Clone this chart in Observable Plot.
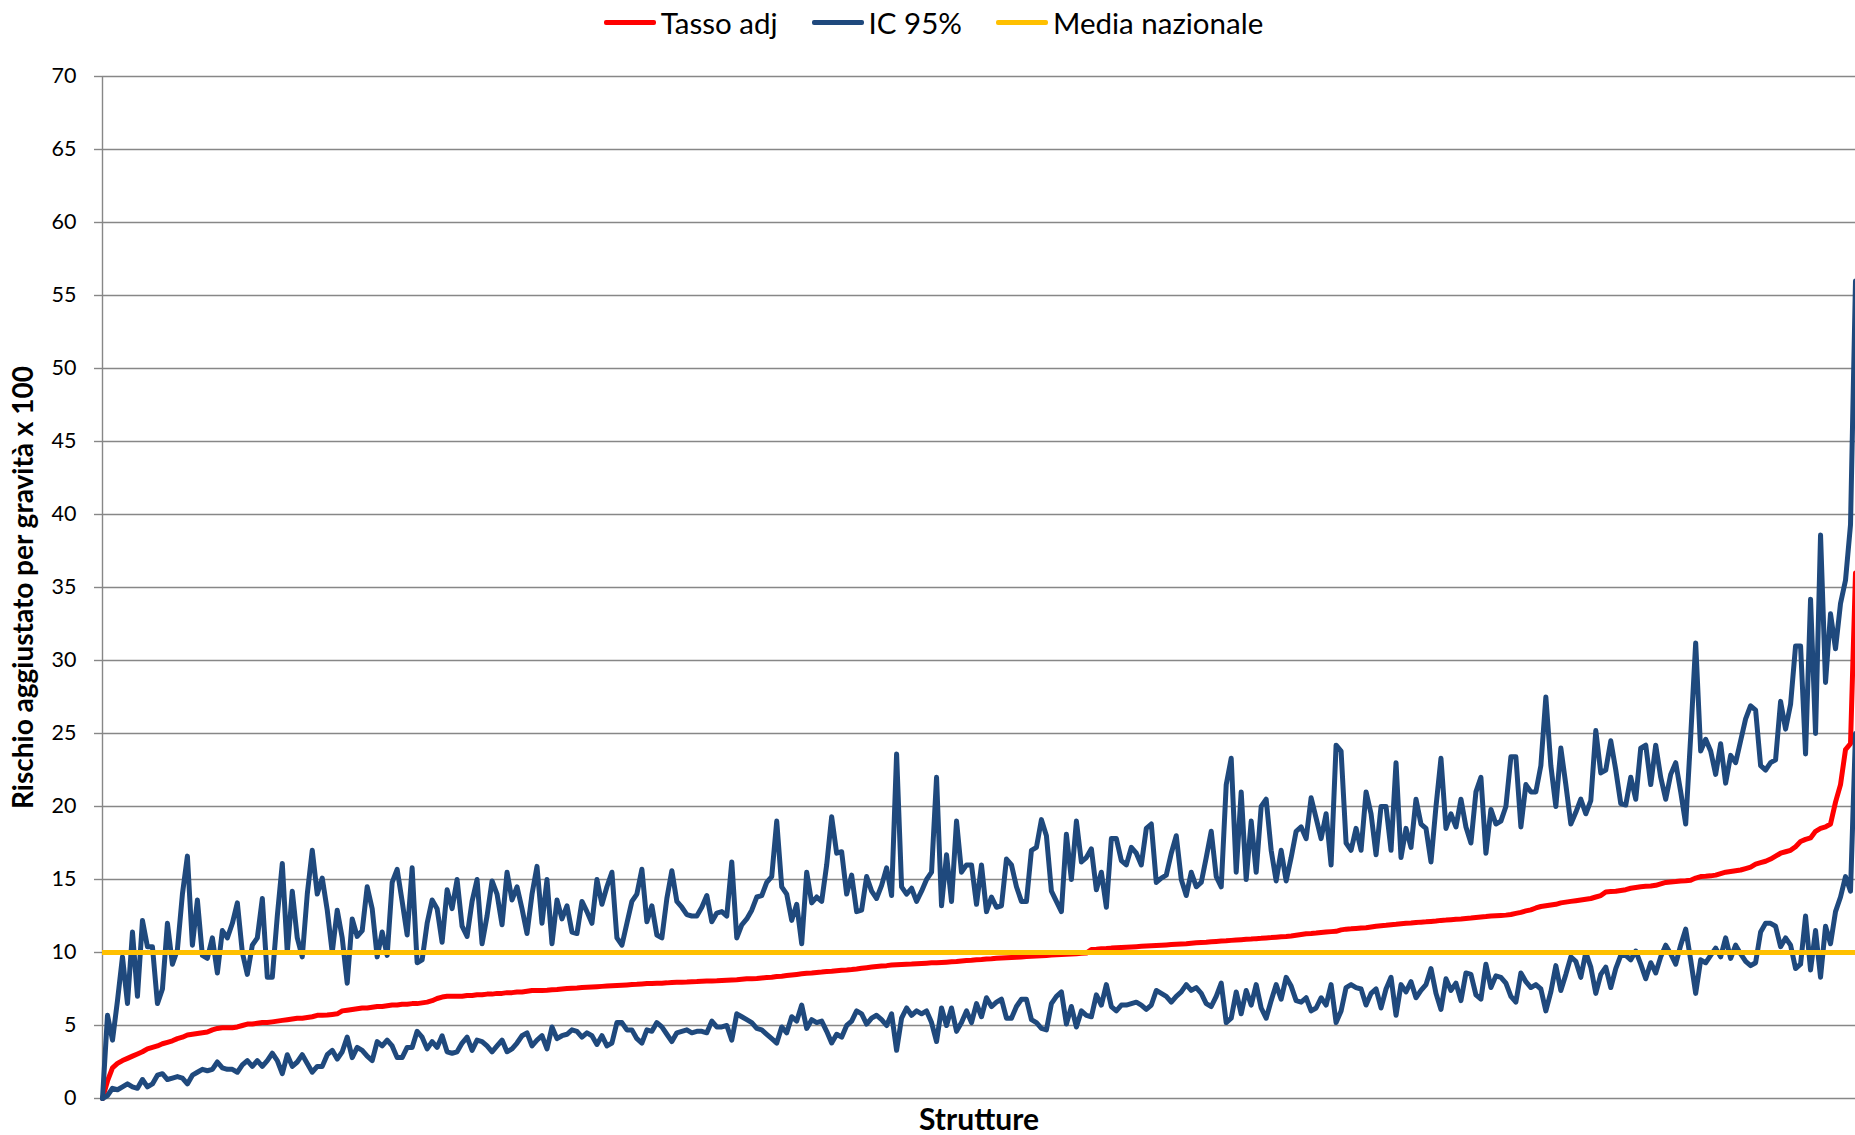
<!DOCTYPE html>
<html>
<head>
<meta charset="utf-8">
<script src="https://cdn.jsdelivr.net/npm/d3@7"></script>
<script src="https://cdn.jsdelivr.net/npm/@observablehq/plot@0.6"></script>
<style>
  body { margin: 0; background: #fff; font-family: Lato, "Open Sans", sans-serif; color: #000; }
  #legend { height: 45px; display: flex; justify-content: center; align-items: center; gap: 34px; font-size: 29.5px; padding-left: 12px; }
  .item { display: flex; align-items: center; gap: 5px; }
  .sw { width: 52px; height: 5px; border-radius: 2px; }
  #chart svg { display: block; }
</style>
</head>
<body>
<div id="legend"></div>
<div id="chart"></div>
<script>
// Series names and colours
const seriesNames = ["Tasso adj", "IC 95%", "Media nazionale"];
const seriesColors = ["#FF0000", "#1F497D", "#FFC000"];
const yTitle = "Rischio aggiustato per gravità x 100";
const xTitle = "Strutture";
const yTicks = [0, 5, 10, 15, 20, 25, 30, 35, 40, 45, 50, 55, 60, 65, 70];
const mediaNazionale = 10;

// Tasso adj (sorted risk) per structure
const tasso = [
  0,1.2,2.1,2.4,2.6,2.75,2.9,3.05,3.2,3.4, 3.5,3.6,3.75,3.85,3.95,4.1,4.2,4.35,4.4,4.45,
  4.5,4.55,4.7,4.8,4.85,4.85,4.85,4.9,5.0,5.1, 5.1,5.15,5.2,5.2,5.25,5.3,5.35,5.4,5.45,5.5,
  5.5,5.55,5.6,5.7,
  5.7,5.72,5.76,5.8,6.0,6.05,6.1,6.15,6.2,6.2, 6.25,6.3,6.3,6.35,6.4,6.4,6.45,6.45,6.5,6.5,
  6.55,6.6,6.7,6.85,6.95,7.0,7.0,7.0,7.0,7.05, 7.05,7.1,7.1,7.15,7.15,7.2,7.2,7.25,7.25,7.3,
  7.3,7.35,7.4,
  7.4,7.4,7.42,7.45,7.47,7.5,7.53,7.55,7.57,7.6, 7.62,7.64,7.66,7.68,7.7,7.72,7.74,7.76,7.78,7.8,
  7.82,7.85,7.87,7.88,7.9,7.9,7.92,7.95,7.96,7.97, 7.98,8.0,8.01,8.03,8.04,8.05,8.06,8.08,8.1,8.12,
  8.14,8.17,8.2,
  8.2,8.22,8.25,8.28,8.3,8.35,8.38,8.42,8.46,8.5, 8.54,8.58,8.6,8.63,8.66,8.7,8.72,8.75,8.78,8.8,
  8.83,8.87,8.92,8.96,9.0,9.04,9.07,9.1,9.14,9.16, 9.18,9.2,9.21,9.23,9.25,9.27,9.29,9.3,9.32,9.34,
  9.36,9.38,9.42,
  9.45,9.47,9.5,9.52,9.55,9.57,9.6,9.62,9.64,9.66, 9.68,9.7,9.72,9.74,9.76,9.78,9.8,9.82,9.84,9.86,
  9.88,9.9,9.92,9.94,9.96,10.2,10.22,10.25,10.27,10.3, 10.32,10.34,10.36,10.38,10.4,10.42,10.44,10.46,10.48,10.5,
  10.52,10.54,10.56,
  10.58,10.6,10.63,10.66,10.68,10.7,10.73,10.76,10.78,10.8, 10.83,10.86,10.88,10.9,10.92,10.95,10.97,11.0,11.02,11.05,
  11.08,11.1,11.13,11.18,11.23,11.28,11.3,11.33,11.37,11.4, 11.43,11.45,11.55,11.6,11.62,11.65,11.68,11.7,11.75,11.8,
  11.83,11.86,11.9,
  11.93,11.97,12.0,12.02,12.05,12.08,12.1,12.13,12.16,12.2, 12.22,12.25,12.28,12.3,12.33,12.36,12.4,12.43,12.46,12.5,
  12.52,12.54,12.56,12.6,12.68,12.75,12.85,12.92,13.05,13.15, 13.2,13.25,13.3,13.4,13.45,13.5,13.55,13.6,13.65,13.7,
  13.8,13.9,14.15,
  14.18,14.2,14.25,14.3,14.4,14.45,14.5,14.53,14.55,14.6, 14.7,14.8,14.83,14.86,14.9,14.92,14.95,15.1,15.2,15.22,
  15.25,15.3,15.4,15.5,15.55,15.6,15.65,15.75,15.85,16.05, 16.15,16.25,16.4,16.6,16.8,16.9,17.0,17.25,17.6,17.75,
  17.85,18.3,18.5,18.6,18.8,20.3,21.5,23.9,24.3,
  36
];

// IC 95% upper bound
const icUpper = [
  0,5.7,4.0,6.7,9.7,6.5,11.4,7.0,12.2,10.4, 10.4,6.5,7.5,12.0,9.2,10.2,14,16.6,10.5,13.6,
  9.8,9.6,11.0,8.6,11.5,11.0,12,13.4,10,8.5, 10.5,11,13.7,8.3,8.3,12.5,16.1,10,14.2,11,
  9.7,14,17.0,14,
  15.1,12.9,10.0,12.9,11.0,7.9,12.3,11.1,11.5,14.5, 13.0,9.7,11.4,9.8,14.8,15.7,13.5,11.2,15.8,9.3,
  9.5,12.0,13.6,13.0,10.7,14.3,13.0,15.0,11.8,11.1, 13.5,15.0,10.6,12.5,14.9,14.0,11.9,15.5,13.6,14.5,
  13.0,11.3,14.0,
  15.9,12.0,15.0,10.6,13.6,12.3,13.2,11.4,11.3,13.5, 12.8,12.0,15.0,13.3,14.5,15.5,11.0,10.5,12.0,13.5,
  14.0,15.7,12.1,13.2,11.2,11.0,13.7,15.6,13.5,13.1, 12.6,12.5,12.5,13.1,13.9,12.1,12.7,12.8,12.5,16.2,
  11.0,11.9,12.3,
  12.9,13.8,13.9,14.8,15.2,19.0,14.5,14.0,12.2,13.3, 10.6,15.5,13.4,13.8,13.5,16.0,19.3,16.8,16.9,14.0,
  15.3,12.8,12.9,15.2,14.2,13.7,14.6,15.8,13.9,23.6, 14.5,14.0,14.4,13.5,14.2,15.0,15.5,22.0,13.2,16.7,
  13.5,19.0,15.5,
  16.0,16.0,13.3,16.0,12.8,13.8,13.1,13.2,16.4,16.0, 14.5,13.5,13.5,17.0,17.2,19.1,18.0,14.2,13.5,12.8,
  18.1,15.0,19.0,16.2,16.5,17.1,14.3,15.5,13.1,17.8, 17.8,16.3,16.0,17.2,16.8,16.0,18.5,18.8,14.8,15.1,
  15.3,16.8,18.0,
  15.0,13.9,15.5,14.5,14.8,16.5,18.3,15.2,14.5,21.5, 23.3,15.5,21.0,15.0,19.0,15.5,20.0,20.5,17.0,14.9,
  17.0,14.9,16.5,18.3,18.6,17.8,20.6,19.2,17.8,19.5, 16.0,24.2,23.8,17.5,17.0,18.5,17.0,21.0,19.5,16.7,
  20.0,20.0,17.0,
  23.0,16.5,18.5,17.2,20.5,18.8,18.5,16.2,20.0,23.3, 18.5,19.5,18.6,20.5,18.6,17.5,21.0,22.0,16.8,19.8,
  18.8,19.0,20.0,23.4,23.4,18.6,21.5,21.0,21.0,22.8, 27.5,22.8,20.0,24.0,21.5,18.8,19.6,20.5,19.5,20.4,
  25.2,22.3,22.5,
  24.5,22.5,20.2,20.1,22.0,20.5,24.0,24.2,21.5,24.2, 22.0,20.5,22.2,23.0,21.0,18.8,24.8,31.2,23.8,24.6,
  23.8,22.2,24.3,21.6,23.5,23.0,24.5,26.0,26.9,26.6, 22.8,22.5,23.0,23.2,27.2,25.3,27.0,31.0,31.0,23.6,
  34.2,25.0,38.6,28.5,33.2,30.8,33.9,35.5,39.3,
  56
];

// IC 95% lower bound
const icLower = [
  0,0.2,0.7,0.6,0.8,1.0,0.8,0.7,1.3,0.8, 1.0,1.6,1.7,1.3,1.4,1.5,1.4,1.0,1.6,1.8,
  2.0,1.9,2.0,2.5,2.1,2.0,2.0,1.8,2.3,2.6, 2.2,2.6,2.2,2.6,3.1,2.6,1.7,3.0,2.2,2.5,
  3.0,2.4,1.8,2.2,
  2.2,3.0,3.3,2.7,3.2,4.2,2.8,3.5,3.3,2.9, 2.6,3.9,3.6,4.0,3.6,2.8,2.8,3.5,3.5,4.6,
  4.2,3.4,3.9,3.5,4.3,3.2,3.1,3.2,3.8,4.2, 3.3,4.0,3.9,3.6,3.2,3.6,4.0,3.2,3.4,3.8,
  4.3,4.5,3.6,
  4.0,4.3,3.4,4.9,4.1,4.3,4.4,4.7,4.6,4.2, 4.5,4.3,3.7,4.3,3.6,3.8,5.2,5.2,4.7,4.7,
  4.1,3.8,4.7,4.6,5.2,4.9,4.4,3.9,4.5,4.6, 4.7,4.5,4.6,4.6,4.5,5.3,4.9,4.9,5.0,4.0,
  5.8,5.6,5.4,
  5.2,4.8,4.7,4.4,4.1,3.8,4.9,4.5,5.6,5.3, 6.4,4.8,5.4,5.2,5.3,4.6,3.8,4.4,4.2,5.0,
  5.3,6.0,5.8,5.1,5.5,5.7,5.4,5.0,5.8,3.3, 5.5,6.2,5.7,6.0,5.8,6.0,5.2,3.9,6.2,5.0,
  6.2,4.6,5.2,
  6.0,5.2,6.5,5.6,6.9,6.3,6.6,6.8,5.5,5.5, 6.3,6.8,6.8,5.4,5.2,4.8,4.7,6.5,7.0,7.3,
  5.1,6.3,4.9,6.0,5.7,5.6,7.1,6.4,7.8,6.3, 6.0,6.4,6.4,6.5,6.6,6.4,6.1,6.4,7.4,7.2,
  7.0,6.6,7.0,
  7.3,7.8,7.4,7.6,7.2,6.5,6.3,7.0,7.9,5.2, 5.5,7.3,5.8,7.4,6.4,7.8,6.2,5.5,6.7,7.8,
  6.8,8.3,7.7,6.7,6.6,6.9,6.0,6.2,6.9,6.4, 7.8,5.2,6.0,7.6,7.8,7.6,7.5,6.4,7.2,7.5,
  6.2,7.5,8.3,
  5.7,7.8,7.3,8.0,6.9,7.4,7.8,8.9,7.2,6.1, 8.2,7.4,7.9,6.7,8.6,8.5,7.1,6.8,9.2,7.6,
  8.4,8.3,7.9,7.0,6.6,8.6,8.0,7.6,7.8,7.5, 6.0,7.3,9.1,7.4,8.5,9.7,9.4,8.3,10.0,9.0,
  7.2,8.5,9.0,
  7.6,8.9,9.8,9.8,9.5,10.1,9.2,8.2,9.3,8.6, 9.7,10.5,9.9,9.2,10.5,11.6,9.5,7.2,9.5,9.3,
  9.8,10.3,9.7,11.0,9.6,10.5,9.9,9.4,9.1,9.3, 11.4,12.0,12.0,11.8,10.4,11.0,10.5,8.9,9.2,12.5,
  8.8,11.5,8.3,11.8,10.6,12.8,13.8,15.2,14.2,
  25
];

// Legend (HTML above the SVG)
const legend = document.getElementById("legend");
seriesNames.forEach((name, i) => {
  const item = document.createElement("div");
  item.className = "item";
  const sw = document.createElement("span");
  sw.className = "sw";
  sw.style.background = seriesColors[i];
  const label = document.createElement("span");
  label.textContent = name;
  item.appendChild(sw);
  item.appendChild(label);
  legend.appendChild(item);
});

const idx = (d, i) => i;
const val = d => d;
const gridColor = "#878787";
const lw = 5;

const chart = Plot.plot({
  width: 1855,
  height: 1090,
  marginLeft: 102,
  marginRight: 0,
  marginTop: 31,
  marginBottom: 37,
  style: { fontFamily: "Lato, 'Open Sans', sans-serif", background: "#fff", color: "#000", overflow: "visible" },
  x: { domain: [0, tasso.length - 1], axis: null },
  y: { domain: [0, 70], axis: null },
  marks: [
    Plot.gridY(yTicks, { stroke: gridColor, strokeOpacity: 1, strokeWidth: 1.4 }),
    Plot.axisY(yTicks, { tickSize: 8, tickPadding: 18, fontSize: 21.5, stroke: gridColor, strokeWidth: 1.4, label: null }),
    Plot.ruleX([0], { stroke: gridColor, strokeWidth: 1.4 }),
    Plot.line(tasso, { x: idx, y: val, stroke: seriesColors[0], strokeWidth: lw, strokeLinejoin: "round" }),
    Plot.line(icUpper, { x: idx, y: val, stroke: seriesColors[1], strokeWidth: lw, strokeLinejoin: "round" }),
    Plot.line(icLower, { x: idx, y: val, stroke: seriesColors[1], strokeWidth: lw, strokeLinejoin: "round" }),
    Plot.ruleY([mediaNazionale], { stroke: seriesColors[2], strokeWidth: lw }),
    Plot.text([yTitle], { text: d => d, frameAnchor: "left", textAnchor: "middle", lineAnchor: "middle", dx: -78, rotate: -90, fontWeight: "bold", fontSize: 28, fill: "#000" }),
    Plot.text([xTitle], { text: d => d, frameAnchor: "bottom", textAnchor: "middle", lineAnchor: "middle", dy: 22, fontWeight: "bold", fontSize: 30, fill: "#000" })
  ]
});
document.getElementById("chart").appendChild(chart);
</script>
</body>
</html>
